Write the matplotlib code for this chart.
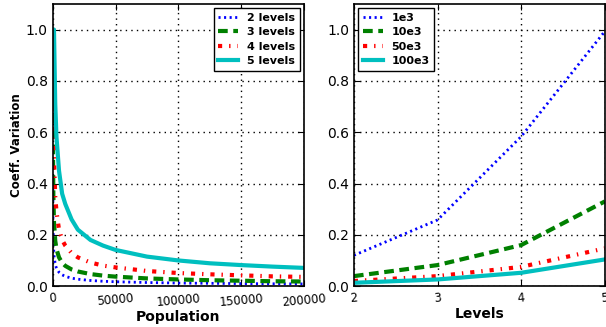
import matplotlib
matplotlib.use("Agg")
import matplotlib.pyplot as plt

plt.rcParams["lines.scale_dashes"] = False

# -------- left panel: CV vs population --------
population = [100, 250, 500, 1000, 2000, 3000, 5000, 7500, 10000, 15000, 20000,
              30000, 40000, 50000, 75000, 100000, 125000, 150000, 175000, 200000]
cv_2lev = [0.38, 0.24, 0.17, 0.12, 0.085, 0.069, 0.054, 0.044, 0.038, 0.031, 0.027,
           0.022, 0.019, 0.017, 0.014, 0.012, 0.011, 0.0098, 0.0091, 0.0085]
cv_3lev = [0.79, 0.50, 0.35, 0.25, 0.177, 0.144, 0.112, 0.091, 0.079, 0.065, 0.057,
           0.047, 0.041, 0.037, 0.030, 0.026, 0.023, 0.021, 0.019, 0.018]
cv_4lev = [1.0, 1.0, 0.71, 0.50, 0.35, 0.29, 0.22, 0.18, 0.158, 0.129, 0.112,
           0.092, 0.080, 0.073, 0.059, 0.051, 0.046, 0.042, 0.038, 0.036]
cv_5lev = [1.0, 1.0, 1.0, 1.0, 0.71, 0.58, 0.45, 0.36, 0.32, 0.26, 0.22,
           0.18, 0.158, 0.141, 0.115, 0.10, 0.089, 0.082, 0.076, 0.071]

# -------- right panel: CV vs levels --------
levels = [2, 3, 4, 5]
cv_1e3 = [0.12, 0.258, 0.583, 0.993]
cv_10e3 = [0.039, 0.082, 0.16, 0.33]
cv_50e3 = [0.02, 0.039, 0.075, 0.147]
cv_100e3 = [0.013, 0.026, 0.052, 0.104]

styles = [
    dict(color="b", linestyle=(0, (1.5, 2.5)), linewidth=2),
    dict(color="g", linestyle=(0, (7, 4)), linewidth=3),
    dict(color="r", linestyle=(0, (3, 5, 1, 5)), linewidth=3),
    dict(color="c", linestyle="-", linewidth=3),
]

fig = plt.figure(figsize=(6.06, 3.27), dpi=100)
ax1 = fig.add_axes([0.087, 0.125, 0.415, 0.863])
ax2 = fig.add_axes([0.584, 0.125, 0.414, 0.863])

for ys, lab, st in zip([cv_2lev, cv_3lev, cv_4lev, cv_5lev],
                       ["2 levels", "3 levels", "4 levels", "5 levels"], styles):
    ax1.plot(population, ys, label=lab, **st)

for ys, lab, st in zip([cv_1e3, cv_10e3, cv_50e3, cv_100e3],
                       ["1e3", "10e3", "50e3", "100e3"], styles):
    ax2.plot(levels, ys, label=lab, **st)

ax1.set_xlim(0, 200000)
ax1.set_xticks([0, 50000, 100000, 150000, 200000])
ax2.set_xlim(2, 5)
ax2.set_xticks(levels)

for ax in (ax1, ax2):
    ax.set_ylim(0, 1.1)
    ax.set_yticks([0.0, 0.2, 0.4, 0.6, 0.8, 1.0])
    ax.grid(True, color="black", linestyle=(0, (1, 3)), linewidth=1)
    ax.tick_params(direction="in", top=True, right=True, length=4)
    ax.tick_params(axis="y", labelsize=10)
    ax.tick_params(axis="x", labelsize=8.5, labelrotation=5, pad=4)
    for sp in ax.spines.values():
        sp.set_linewidth(1.2)

ax1.set_xlabel("Population", fontsize=10, fontweight="bold", labelpad=1)
ax1.set_ylabel("Coeff. Variation", fontsize=8.5, fontweight="bold", labelpad=2)
ax2.set_xlabel("Levels", fontsize=10, fontweight="bold", labelpad=1)

for ax, loc in ((ax1, "upper right"), (ax2, "upper left")):
    leg = ax.legend(loc=loc, fancybox=False, framealpha=1, edgecolor="black",
                    prop={"weight": "bold", "size": 8}, handlelength=1.8,
                    borderaxespad=0.4, labelspacing=0.4)
    leg.get_frame().set_linewidth(1.0)

fig.savefig("out.png", dpi=100)
